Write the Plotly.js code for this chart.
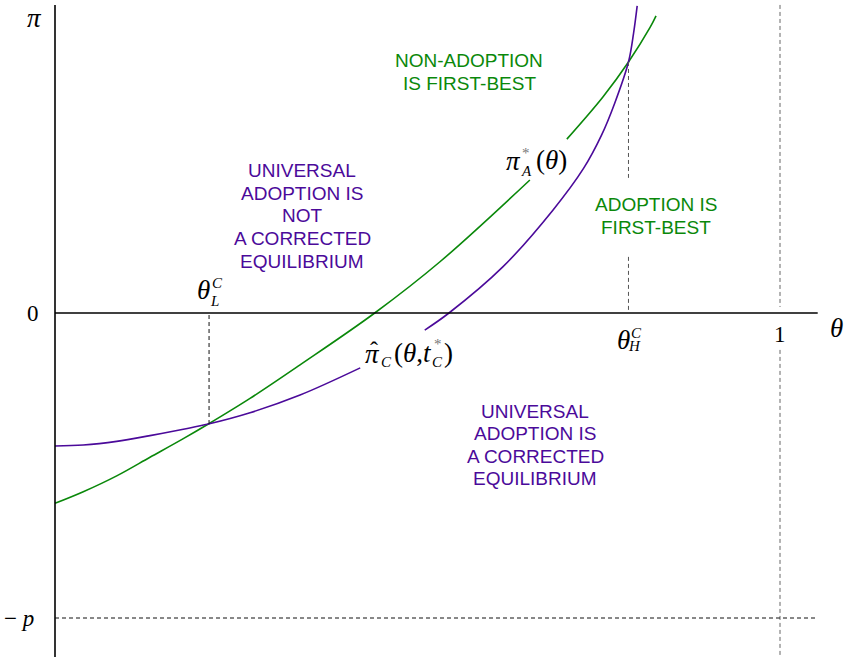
<!DOCTYPE html>
<html>
<head>
<meta charset="utf-8">
<script src="https://cdn.plot.ly/plotly-3.0.1.min.js"></script>
<style>
  html, body { margin: 0; padding: 0; background: #fff; }
  #chart { width: 848px; height: 661px; }
</style>
</head>
<body>
<div id="chart"></div>
<script>
// curves (theta, pi), null = gap left for the label
const adoptTheta = [0, 0.039, 0.0851, 0.131, 0.177, 0.2115, 0.269, 0.338, 0.441, 0.531, 0.655, null, 0.706, 0.756, 0.791, 0.821, 0.829];
const adoptPi    = [-0.624, -0.586, -0.534, -0.473, -0.412, -0.364, -0.280, -0.170, 0, 0.168, 0.436, null, 0.570, 0.709, 0.823, 0.937, 0.974];

const corrTheta = [0, 0.039, 0.0851, 0.131, 0.177, 0.2115, 0.269, 0.338, 0.421, null, 0.510, 0.5434, 0.618, 0.687, 0.729, 0.754, 0.772, 0.791, 0.798, 0.803];
const corrPi    = [-0.436, -0.433, -0.421, -0.402, -0.381, -0.364, -0.327, -0.269, -0.180, null, -0.056, 0, 0.152, 0.338, 0.474, 0.584, 0.688, 0.823, 0.917, 1.007];

// key points
const thetaL = 0.2125;
const thetaH = 0.791;
const piL = -0.364;
const piH = 0.823;
const minusP = -1;

const GREEN = "#0a880a";
const PURPLE = "#4b0a9a";
const W = 848, H = 661;

// helpers to place text by pixel
const X = px => px / W;
const Y = py => 1 - py / H;

function txt(s, px, py, opt) {
  opt = opt || {};
  return {
    xref: "paper", yref: "paper", x: X(px), y: Y(py),
    text: s, showarrow: false,
    xanchor: opt.xanchor || "center", yanchor: "middle",
    font: { family: opt.family || "Liberation Serif", size: opt.size || 27, color: opt.color || "#000" }
  };
}

function block(lines, cx, cy, color) {
  const step = 22.6;
  const top = cy - step * (lines.length - 1) / 2;
  return lines.map((l, i) => txt(l, cx, top + i * step, { family: "Liberation Sans", size: 19, color: color }));
}

const traces = [
  { x: adoptTheta, y: adoptPi, mode: "lines", line: { color: GREEN, width: 1.6, shape: "spline", smoothing: 1 }, connectgaps: false, hoverinfo: "skip" },
  { x: corrTheta, y: corrPi, mode: "lines", line: { color: PURPLE, width: 1.6, shape: "spline", smoothing: 1 }, connectgaps: false, hoverinfo: "skip" }
];

const dash = "4px,3px";
const shapes = [
  // axes
  { type: "line", x0: 0, x1: 0, y0: -1.128, y1: 1.010, line: { color: "#000", width: 1.6 } },
  { type: "line", x0: 0, x1: 1.052, y0: 0, y1: 0, line: { color: "#000", width: 1.6 } },
  // guides
  { type: "line", x0: thetaL, x1: thetaL, y0: piL, y1: 0, line: { color: "#111", width: 1, dash: dash } },
  { type: "line", x0: thetaH, x1: thetaH, y0: piH, y1: 0.443, line: { color: "#555", width: 1, dash: dash } },
  { type: "line", x0: thetaH, x1: thetaH, y0: 0.184, y1: 0, line: { color: "#555", width: 1, dash: dash } },
  { type: "line", x0: 1, x1: 1, y0: 1.010, y1: 0.020, line: { color: "#666", width: 1, dash: dash } },
  { type: "line", x0: 1, x1: 1, y0: -0.121, y1: -1.128, line: { color: "#666", width: 1, dash: dash } },
  { type: "line", x0: 0, x1: 1.052, y0: minusP, y1: minusP, line: { color: "#111", width: 1, dash: dash } }
];

const annotations = [
  txt("<i>π</i>", 34, 18),
  txt("0", 33, 313, { size: 23 }),
  txt("− <i>p</i>", 19, 618, { size: 23 }),
  txt("<i>θ</i>", 836, 328),
  txt("1", 780, 334, { size: 23 }),
  // theta_L^C
  txt("<i>θ</i>", 203, 290),
  txt("<i>C</i>", 217, 283, { size: 15 }),
  txt("<i>L</i>", 214, 301, { size: 15 }),
  // theta_H^C
  txt("<i>θ</i>", 623, 340),
  txt("<i>C</i>", 636, 333, { size: 15 }),
  txt("<i>H</i>", 634, 346, { size: 15 }),
  // pi_A*(theta)
  txt("<i>π</i>", 513, 161),
  txt("*", 526, 153, { size: 15, color: "#777" }),
  txt("<i>A</i>", 526, 171, { size: 15 }),
  txt("(<i>θ</i>)", 534, 160, { xanchor: "left" }),
  // pi-hat_C(theta, t_C*)
  txt("<i>π</i>", 372, 354),
  txt("ˆ", 374, 350, { size: 24 }),
  txt("<i>C</i>", 386, 362, { size: 15 }),
  txt("(<i>θ</i>,<i>t</i>", 392, 353, { xanchor: "left" }),
  txt("*", 438, 344, { size: 15, color: "#777" }),
  txt("<i>C</i>", 437, 362, { size: 15 }),
  txt(")", 449, 353),
  ...block(["NON-ADOPTION", "IS FIRST-BEST"], 469, 72, GREEN),
  ...block(["UNIVERSAL", "ADOPTION IS", "NOT", "A CORRECTED", "EQUILIBRIUM"], 302, 216, PURPLE),
  ...block(["ADOPTION IS", "FIRST-BEST"], 656, 216, GREEN),
  ...block(["UNIVERSAL", "ADOPTION IS", "A CORRECTED", "EQUILIBRIUM"], 535, 445, PURPLE)
];

const layout = {
  width: W, height: H,
  margin: { l: 0, r: 0, t: 0, b: 0 },
  paper_bgcolor: "#fff", plot_bgcolor: "#fff",
  showlegend: false,
  xaxis: { range: [-55 / 725, 793 / 725], visible: false, fixedrange: true },
  yaxis: { range: [-348 / 305, 313 / 305], visible: false, fixedrange: true },
  shapes: shapes,
  annotations: annotations
};

Plotly.newPlot("chart", traces, layout, { displayModeBar: false, staticPlot: true });
</script>
</body>
</html>
